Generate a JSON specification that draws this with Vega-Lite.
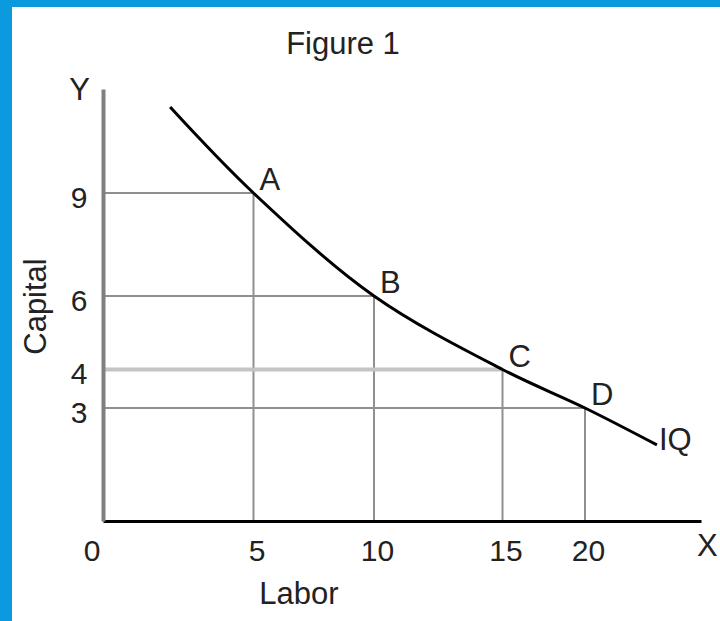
{
  "$schema": "https://vega.github.io/schema/vega-lite/v6.json",
  "width": 708,
  "height": 614,
  "autosize": {"type": "none"},
  "padding": {"left": 12, "top": 7, "right": 0, "bottom": 0},
  "background": "#0c9ade",
  "title": {
    "text": "Figure 1",
    "anchor": "middle",
    "orient": "top",
    "offset": 0,
    "dx": -23,
    "dy": 78,
    "baseline": "alphabetic",
    "font": "Liberation Sans",
    "fontSize": 31,
    "fontWeight": "normal",
    "color": "#222222"
  },
  "config": {
    "view": {"fill": "white", "stroke": null},
    "font": "Liberation Sans"
  },
  "datasets": {
    "curve": [
      {"L": 2.23, "K": 11.48},
      {"L": 5, "K": 9},
      {"L": 10, "K": 6},
      {"L": 15, "K": 4},
      {"L": 20, "K": 3},
      {"L": 23.1, "K": 2.02}
    ],
    "points": [
      {"label": "A", "L": 5, "K": 9},
      {"label": "B", "L": 10, "K": 6},
      {"label": "C", "L": 15, "K": 4},
      {"label": "D", "L": 20, "K": 3}
    ],
    "iq": [{"label": "IQ", "L": 23.1, "K": 2.02}],
    "yname": [{"label": "Y", "L": 0, "K": 12}],
    "xname": [{"label": "X", "L": 25, "K": 0}]
  },
  "layer": [
    {
      "data": {"name": "points"},
      "mark": {"type": "rule", "color": "#8f8f8f", "strokeWidth": 2},
      "encoding": {
        "x": {
          "field": "L",
          "type": "quantitative",
          "scale": {"domain": [0, 5, 10, 15, 20, 25], "range": [91, 241.5, 362, 490.5, 573, 689], "nice": false, "zero": false},
          "axis": {
            "title": "Labor",
            "orient": "bottom",
            "offset": -100,
            "values": [0, 5, 10, 15, 20],
            "grid": false,
            "ticks": false,
            "domainColor": "#000000",
            "domainWidth": 3,
            "labelFont": "Liberation Sans",
            "labelFontSize": 30,
            "labelColor": "#222222",
            "labelPadding": 15,
            "labelFlush": false,
            "labelOverlap": false,
            "labelAlign": {"condition": {"test": "datum.value === 0", "value": "right"}, "value": "center"},
            "labelOffset": {"condition": {"test": "datum.value === 0", "value": -3}, "value": 3},
            "titleFont": "Liberation Sans",
            "titleFontSize": 31,
            "titleFontWeight": "normal",
            "titleColor": "#222222",
            "titleX": 286.5,
            "titleY": 82,
            "titleAlign": "center",
            "titleBaseline": "alphabetic",
            "zindex": 1
          }
        },
        "y": {
          "field": "K",
          "type": "quantitative",
          "scale": {"domain": [0, 3, 4, 6, 9, 12], "range": [514, 401, 362.5, 289, 186, 82], "nice": false, "zero": false},
          "axis": {
            "title": "Capital",
            "orient": "left",
            "offset": -91,
            "values": [3, 4, 6, 9],
            "grid": false,
            "ticks": false,
            "domainColor": "#808080",
            "domainWidth": 4,
            "labelFont": "Liberation Sans",
            "labelFontSize": 30,
            "labelColor": "#222222",
            "labelPadding": 16,
            "labelBaseline": "middle",
            "labelOffset": 5,
            "labelFlush": false,
            "labelOverlap": false,
            "titleFont": "Liberation Sans",
            "titleFontSize": 31,
            "titleFontWeight": "normal",
            "titleColor": "#222222",
            "titleAngle": -90,
            "titleX": -58,
            "titleY": 299,
            "titleAlign": "center",
            "titleBaseline": "alphabetic",
            "zindex": 1
          }
        },
        "y2": {"datum": 0}
      }
    },
    {
      "data": {"name": "points"},
      "mark": {"type": "rule"},
      "encoding": {
        "x": {"field": "L", "type": "quantitative"},
        "x2": {"datum": 0},
        "y": {"field": "K", "type": "quantitative"},
        "color": {"condition": {"test": "datum.K === 4", "value": "#c4c4c4"}, "value": "#8f8f8f"},
        "strokeWidth": {"condition": {"test": "datum.K === 4", "value": 4}, "value": 2}
      }
    },
    {
      "data": {"name": "curve"},
      "mark": {"type": "line", "color": "#000000", "strokeWidth": 3, "interpolate": "catmull-rom"},
      "encoding": {
        "x": {"field": "L", "type": "quantitative"},
        "y": {"field": "K", "type": "quantitative"}
      }
    },
    {
      "data": {"name": "points"},
      "mark": {"type": "text", "align": "left", "baseline": "alphabetic", "dx": 6, "dy": -3, "fontSize": 31, "font": "Liberation Sans", "color": "#222222"},
      "encoding": {
        "x": {"field": "L", "type": "quantitative"},
        "y": {"field": "K", "type": "quantitative"},
        "text": {"field": "label"}
      }
    },
    {
      "data": {"name": "iq"},
      "mark": {"type": "text", "align": "left", "baseline": "middle", "dx": 2, "dy": -4, "fontSize": 31, "font": "Liberation Sans", "color": "#222222"},
      "encoding": {
        "x": {"field": "L", "type": "quantitative"},
        "y": {"field": "K", "type": "quantitative"},
        "text": {"field": "label"}
      }
    },
    {
      "data": {"name": "yname"},
      "mark": {"type": "text", "align": "right", "baseline": "alphabetic", "dx": -13, "dy": 11, "fontSize": 31, "font": "Liberation Sans", "color": "#222222"},
      "encoding": {
        "x": {"field": "L", "type": "quantitative"},
        "y": {"field": "K", "type": "quantitative"},
        "text": {"field": "label"}
      }
    },
    {
      "data": {"name": "xname"},
      "mark": {"type": "text", "align": "left", "baseline": "alphabetic", "dx": -4, "dy": 35, "fontSize": 31, "font": "Liberation Sans", "color": "#222222"},
      "encoding": {
        "x": {"field": "L", "type": "quantitative"},
        "y": {"field": "K", "type": "quantitative"},
        "text": {"field": "label"}
      }
    }
  ]
}
